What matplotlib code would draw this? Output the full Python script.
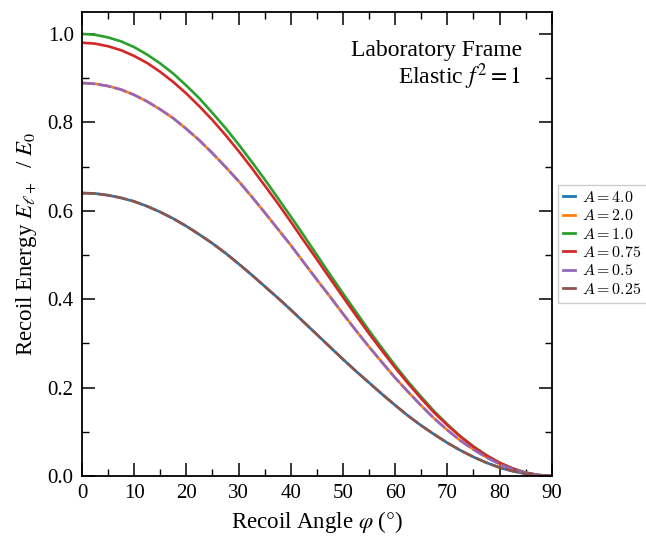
import matplotlib
matplotlib.use("Agg")
import matplotlib.pyplot as plt
from matplotlib.font_manager import FontProperties

plt.rcParams['font.family'] = ['Liberation Serif', 'DejaVu Serif']
plt.rcParams['mathtext.fontset'] = 'stix'

# recoil angle (deg) and E/E0
phi = [0, 2.5, 5, 7.5, 10, 12.5, 15, 17.5, 20, 22.5, 25, 27.5, 30, 32.5, 35, 37.5,
       40, 42.5, 45, 47.5, 50, 52.5, 55, 57.5, 60, 62.5, 65, 67.5, 70, 72.5, 75,
       77.5, 80, 82.5, 85, 87.5, 90]
e_100 = [1.000, 0.998, 0.992, 0.983, 0.970, 0.953, 0.933, 0.910, 0.883, 0.854,
         0.821, 0.787, 0.750, 0.711, 0.671, 0.629, 0.587, 0.544, 0.500, 0.456,
         0.413, 0.371, 0.329, 0.289, 0.250, 0.213, 0.179, 0.146, 0.117, 0.090,
         0.067, 0.047, 0.030, 0.017, 0.008, 0.002, 0.000]
e_098 = [0.980, 0.978, 0.972, 0.963, 0.950, 0.934, 0.914, 0.891, 0.865, 0.836,
         0.805, 0.771, 0.735, 0.697, 0.657, 0.617, 0.575, 0.532, 0.490, 0.447,
         0.405, 0.363, 0.322, 0.283, 0.245, 0.209, 0.175, 0.143, 0.115, 0.089,
         0.066, 0.046, 0.030, 0.017, 0.007, 0.002, 0.000]
e_089 = [0.889, 0.887, 0.882, 0.874, 0.862, 0.847, 0.829, 0.809, 0.785, 0.759,
         0.730, 0.699, 0.667, 0.632, 0.596, 0.559, 0.522, 0.483, 0.444, 0.406,
         0.367, 0.329, 0.292, 0.257, 0.222, 0.190, 0.159, 0.130, 0.104, 0.080,
         0.060, 0.042, 0.027, 0.015, 0.007, 0.002, 0.000]
e_064 = [0.640, 0.639, 0.635, 0.629, 0.621, 0.610, 0.597, 0.582, 0.565, 0.546,
         0.526, 0.504, 0.480, 0.455, 0.429, 0.403, 0.376, 0.348, 0.320, 0.292,
         0.264, 0.237, 0.211, 0.185, 0.160, 0.136, 0.114, 0.094, 0.075, 0.058,
         0.043, 0.030, 0.019, 0.011, 0.005, 0.001, 0.000]

labels = ['4.0', '2.0', '1.0', '0.75', '0.5', '0.25']
series = [e_064, e_089, e_100, e_098, e_089, e_064]
colors = ['#1f77b4', '#ff7f0e', '#2ca02c', '#d62728', '#9467bd', '#8c564b']
styles = ['-', '-', '-', '-', (0, (5, 1.1)), (0, (5, 1.1))]

fig = plt.figure(figsize=(6.46, 5.36), dpi=100)
ax = fig.add_axes([0.127, 0.112, 0.727, 0.866])

for lab, y, c, ls in zip(labels, series, colors, styles):
    ax.plot(phi, y, color=c, ls=ls, lw=1.9, label=r'$A = %s$' % lab)

ax.set_xlim(0, 90)
ax.set_ylim(0, 1.05)
ax.set_xticks(range(0, 91, 10))
ax.set_xticks(range(0, 91, 5), minor=True)
ax.set_yticks([0.0, 0.2, 0.4, 0.6, 0.8, 1.0])
ax.set_yticks([0.1, 0.3, 0.5, 0.7, 0.9], minor=True)
ax.tick_params(which='both', direction='in', top=True, right=True,
               labelsize=15, pad=6)
ax.tick_params(which='major', length=9.5, width=1.1)
ax.tick_params(which='minor', length=4.8, width=1.0)
for s in ax.spines.values():
    s.set_linewidth(1.3)

ax.set_xlabel(r'Recoil Angle $\varphi$ ($\degree$)', fontsize=16.5, labelpad=4)
ax.set_ylabel(r'Recoil Energy $E_{\ell+}$  / $E_0$', fontsize=16.5, labelpad=6)

ax.text(0.936, 0.905, 'Laboratory Frame', transform=ax.transAxes,
        ha='right', va='baseline', fontsize=17)
ax.text(0.936, 0.843, r'Elastic $f^2 = 1$', transform=ax.transAxes,
        ha='right', va='baseline', fontsize=17)

leg = ax.legend(loc='center left', bbox_to_anchor=(1.014, 0.5), borderaxespad=0,
                prop=FontProperties(size=11.5, math_fontfamily='cm'),
                handlelength=0.75, handletextpad=0.45, labelspacing=0.15,
                borderpad=0.3, fancybox=False, framealpha=1, edgecolor='#cccccc')
for h in leg.get_lines():
    h.set_linestyle('-')
    h.set_linewidth(2)

fig.savefig('out.png', dpi=100)
